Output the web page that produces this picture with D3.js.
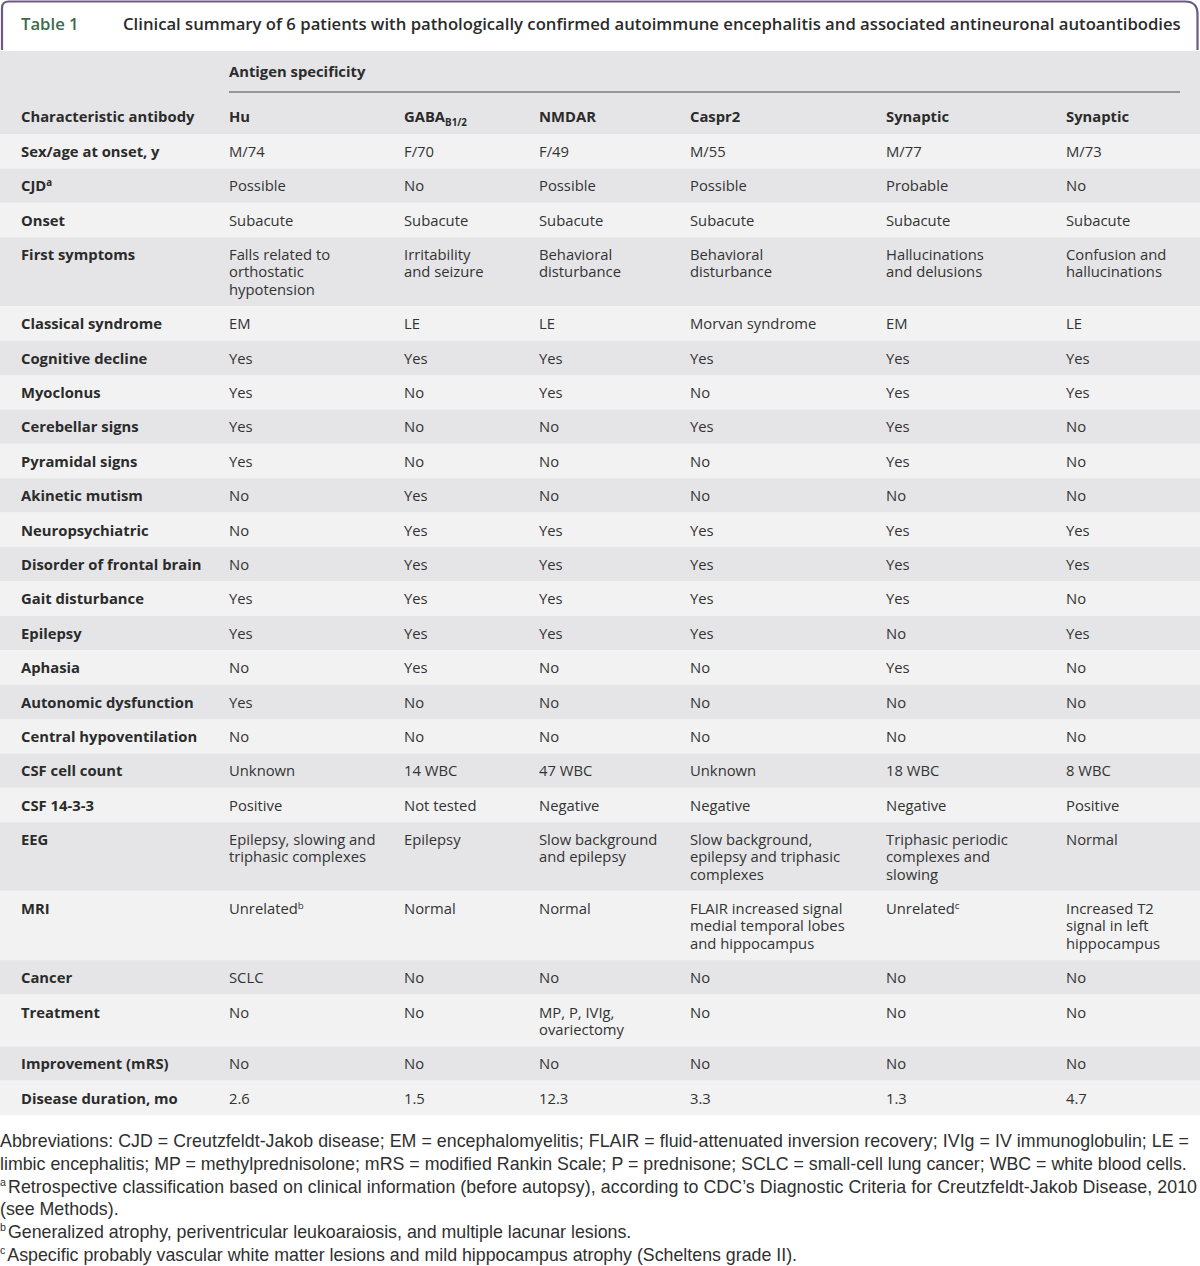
<!DOCTYPE html>
<html>
<head>
<meta charset="utf-8">
<script src="https://cdn.jsdelivr.net/npm/d3@7"></script>
<style>
  html, body { margin: 0; padding: 0; background: #fff; }
  svg { display: block; }
</style>
</head>
<body>
<svg id="chart" width="1200" height="1266"></svg>
<script>
// ---- data ----
const tableTitle = "Clinical summary of 6 patients with pathologically confirmed autoimmune encephalitis and associated antineuronal autoantibodies";
const groupHeader = "Antigen specificity";
const columns = ["Hu", "GABA_B1/2", "NMDAR", "Caspr2", "Synaptic", "Synaptic"];

const rowLabels = [
  "Sex/age at onset, y", "CJD^a", "Onset", "First symptoms", "Classical syndrome",
  "Cognitive decline", "Myoclonus", "Cerebellar signs", "Pyramidal signs", "Akinetic mutism",
  "Neuropsychiatric", "Disorder of frontal brain", "Gait disturbance", "Epilepsy", "Aphasia",
  "Autonomic dysfunction", "Central hypoventilation", "CSF cell count", "CSF 14-3-3", "EEG",
  "MRI", "Cancer", "Treatment", "Improvement (mRS)", "Disease duration, mo"
];

const hu = ["M/74", "Possible", "Subacute", "Falls related to\northostatic\nhypotension", "EM",
  "Yes", "Yes", "Yes", "Yes", "No", "No", "No", "Yes", "Yes", "No", "Yes", "No",
  "Unknown", "Positive", "Epilepsy, slowing and\ntriphasic complexes", "Unrelated^b", "SCLC", "No", "No", "2.6"];
const gaba = ["F/70", "No", "Subacute", "Irritability\nand seizure", "LE",
  "Yes", "No", "No", "No", "Yes", "Yes", "Yes", "Yes", "Yes", "Yes", "No", "No",
  "14 WBC", "Not tested", "Epilepsy", "Normal", "No", "No", "No", "1.5"];
const nmdar = ["F/49", "Possible", "Subacute", "Behavioral\ndisturbance", "LE",
  "Yes", "Yes", "No", "No", "No", "Yes", "Yes", "Yes", "Yes", "No", "No", "No",
  "47 WBC", "Negative", "Slow background\nand epilepsy", "Normal", "No", "MP, P, IVIg,\novariectomy", "No", "12.3"];
const caspr2 = ["M/55", "Possible", "Subacute", "Behavioral\ndisturbance", "Morvan syndrome",
  "Yes", "No", "Yes", "No", "No", "Yes", "Yes", "Yes", "Yes", "No", "No", "No",
  "Unknown", "Negative", "Slow background,\nepilepsy and triphasic\ncomplexes",
  "FLAIR increased signal\nmedial temporal lobes\nand hippocampus", "No", "No", "No", "3.3"];
const synaptic1 = ["M/77", "Probable", "Subacute", "Hallucinations\nand delusions", "EM",
  "Yes", "Yes", "Yes", "Yes", "No", "Yes", "Yes", "Yes", "No", "Yes", "No", "No",
  "18 WBC", "Negative", "Triphasic periodic\ncomplexes and\nslowing", "Unrelated^c", "No", "No", "No", "1.3"];
const synaptic2 = ["M/73", "No", "Subacute", "Confusion and\nhallucinations", "LE",
  "Yes", "Yes", "No", "No", "No", "Yes", "Yes", "No", "Yes", "No", "No", "No",
  "8 WBC", "Positive", "Normal", "Increased T2\nsignal in left\nhippocampus", "No", "No", "No", "4.7"];

const footnotes = [
  "Abbreviations: CJD = Creutzfeldt-Jakob disease; EM = encephalomyelitis; FLAIR = fluid-attenuated inversion recovery; IVIg = IV immunoglobulin; LE =",
  "limbic encephalitis; MP = methylprednisolone; mRS = modified Rankin Scale; P = prednisone; SCLC = small-cell lung cancer; WBC = white blood cells.",
  "^aRetrospective classification based on clinical information (before autopsy), according to CDC’s Diagnostic Criteria for Creutzfeldt-Jakob Disease, 2010",
  "(see Methods).",
  "^bGeneralized atrophy, periventricular leukoaraiosis, and multiple lacunar lesions.",
  "^cAspecific probably vascular white matter lesions and mild hippocampus atrophy (Scheltens grade II)."
];
const justified = [true, false, true, false, false, false];

// ---- layout ----
const W = 1200;
const svg = d3.select("#chart");
const bodyFont = "'Open Sans', Lato, sans-serif";
const noteFont = "'Liberation Sans', Arial, sans-serif";
const fs = 14.8;
const nfs = 17.8;

const series = [hu, gaba, nmdar, caspr2, synaptic1, synaptic2];
const colKeys = d3.range(columns.length + 1); // 0 = label column
const x = d3.scaleOrdinal().domain(colKeys).range([21, 229, 404, 539, 690, 886, 1066]);

// row height from number of text lines
const lineH = 17.3;
const rowH = d3.scaleLinear().domain([1, 3]).range([34.4, 69]);

const rows = rowLabels.map((lab, i) => {
  const cells = [lab].concat(series.map(s => s[i]));
  const n = d3.max(cells, c => c.split("\n").length);
  return {label: lab, cells: cells, lines: n};
});
let acc = 134;
rows.forEach(r => { r.y0 = acc; r.h = rowH(r.lines); acc += r.h; });

// write text with ^sup / _sub markup
function richText(sel, str, size) {
  sel.text(null);
  if (str.startsWith("^")) {
    sel.append("tspan").attr("font-size", size * 0.6).attr("dy", -size * 0.38).text(str[1]);
    sel.append("tspan").attr("dy", size * 0.38).attr("dx", 2).text(str.slice(2));
    return;
  }
  const idx = str.search(/[\^_]/);
  if (idx < 0) { sel.text(str); return; }
  const mark = str[idx];
  sel.append("tspan").text(str.slice(0, idx));
  const shift = mark === "^" ? -size * 0.38 : size * 0.3;
  sel.append("tspan").attr("font-size", size * 0.66).attr("dy", shift).text(str.slice(idx + 1));
}

// ---- title box ----
svg.append("path")
  .attr("d", `M2,50 L2,8 Q2,1.5 9,1.5 L1185,1.5 Q1197.5,1.5 1197.5,14 L1197.5,50`)
  .attr("fill", "#fff")
  .attr("stroke", "#6b5b82")
  .attr("stroke-width", 2.2);

svg.append("text")
  .attr("x", 21).attr("y", 30)
  .attr("font-family", bodyFont).attr("font-weight", 600).attr("font-size", 16.7)
  .attr("fill", "#3d6b4b")
  .text("Table 1");

svg.append("text")
  .attr("x", 123).attr("y", 30)
  .attr("font-family", bodyFont).attr("font-weight", 600).attr("font-size", 16.7)
  .attr("fill", "#2b2b2b")
  .text(tableTitle);

// ---- table backgrounds ----
svg.append("rect")
  .attr("x", 0).attr("y", 51).attr("width", W).attr("height", 134 - 51)
  .attr("fill", "#e5e5e7");

svg.selectAll("rect.row").data(rows).join("rect")
  .attr("class", "row")
  .attr("x", 0).attr("width", W)
  .attr("y", d => d.y0).attr("height", d => d.h)
  .attr("fill", (d, i) => i % 2 === 0 ? "#f2f2f2" : "#e5e5e7");

// ---- header ----
svg.append("text")
  .attr("x", x(1)).attr("y", 77)
  .attr("font-family", bodyFont).attr("font-weight", 700).attr("font-size", fs)
  .attr("fill", "#2b2b2b")
  .text(groupHeader);

svg.append("line")
  .attr("x1", x(1)).attr("x2", 1180).attr("y1", 92).attr("y2", 92)
  .attr("stroke", "#7a7a7a").attr("stroke-width", 1.3);

const headCells = ["Characteristic antibody"].concat(columns);
svg.selectAll("text.head").data(headCells).join("text")
  .attr("class", "head")
  .attr("x", (d, i) => x(i)).attr("y", 122)
  .attr("font-family", bodyFont).attr("font-weight", 700).attr("font-size", fs)
  .attr("fill", "#2b2b2b")
  .each(function(d) { richText(d3.select(this), d, fs); });

// ---- body: one text per cell, wrapped lines as tspans ----
const rowG = svg.selectAll("g.r").data(rows).join("g")
  .attr("class", "r")
  .attr("transform", d => `translate(0,${d.y0})`);

rowG.selectAll("text.c").data(d => d.cells.map((c, i) => ({text: c, col: i}))).join("text")
  .attr("class", "c")
  .attr("x", d => x(d.col)).attr("y", 23)
  .attr("font-family", bodyFont)
  .attr("font-weight", d => d.col === 0 ? 700 : 400)
  .attr("font-size", fs)
  .attr("fill", d => d.col === 0 ? "#2b2b2b" : "#333")
  .each(function(d) {
    const t = d3.select(this);
    const lines = d.text.split("\n");
    if (lines.length === 1) { richText(t, lines[0], fs); return; }
    lines.forEach((ln, k) => {
      t.append("tspan").attr("x", x(d.col)).attr("y", 23 + k * lineH).text(ln);
    });
  });

// ---- footnotes ----
const noteY = d3.scaleLinear().domain([0, footnotes.length - 1]).range([1147, 1261]);
svg.selectAll("text.note").data(footnotes).join("text")
  .attr("class", "note")
  .attr("x", 0).attr("y", (d, i) => noteY(i))
  .attr("font-family", noteFont).attr("font-size", nfs)
  .attr("fill", "#2f2f2f")
  .each(function(d, i) {
    const t = d3.select(this);
    richText(t, d, nfs);
    if (justified[i]) t.attr("textLength", i === 0 ? 1189 : 1197).attr("lengthAdjust", "spacing");
  });
</script>
</body>
</html>
